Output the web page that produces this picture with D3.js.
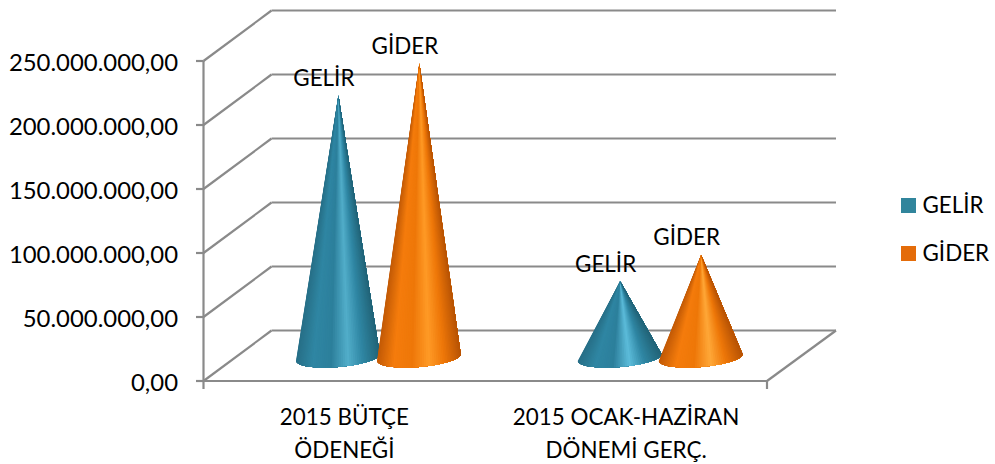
<!DOCTYPE html>
<html><head><meta charset="utf-8">
<script src="https://cdn.jsdelivr.net/npm/d3@7"></script>
<style>html,body{margin:0;padding:0;background:#fff}svg{display:block}text{font-family:Lato,"Open Sans",sans-serif;fill:#000}</style>
</head><body><svg id="c" width="995" height="464"></svg>
<script>
const categories=[["2015 BÜTÇE","ÖDENEĞİ"],["2015 OCAK-HAZİRAN","DÖNEMİ GERÇ."]];
const seriesNames=["GELİR","GİDER"];
const gelirValues=[205000000,60000000];
const giderValues=[230000000,80500000];
const tickValues=[0,50000000,100000000,150000000,200000000,250000000];
const tickLabels=["0,00","50.000.000,00","100.000.000,00","150.000.000,00","200.000.000,00","250.000.000,00"];
const swatchColors=["#31859c","#e46c0a"];
const ramps=[["#276f87","#2f86a3","#2c7f9b","#52aeca","#2f86a3","#226478"],
             ["#c25a06","#f57c0c","#ee7708","#ff9a26","#ee7708","#b85405"]];
const glow=["#5cbcda","#ffa838"];

const svg=d3.select("#c");
const x=d3.scaleBand().domain([0,1]).range([203.5,767]);
const y=d3.scaleLinear().domain([0,250000000]).range([381,61]);
const inner=d3.scaleBand().domain([0,1]).range([-81,81]);
const depthX=68,depthY=50.5,gridRight=836;
const grey="#8a8a8a";
const line=(a,b,c,d)=>svg.append("line").attr("x1",a).attr("y1",b).attr("x2",c).attr("y2",d)
  .attr("stroke",grey).attr("stroke-width",2.2);

tickValues.forEach(v=>{
  line(203.5,y(v),203.5+depthX,y(v)-depthY);
  line(203.5+depthX,y(v)-depthY,gridRight,y(v)-depthY);
  line(196,y(v),203.5,y(v));
});
line(203.5,y(0),203.5,y(250000000));
line(203.5,y(0),767,y(0));
line(767,y(0),gridRight,y(0)-depthY);
[203.5,767].forEach(p=>line(p,y(0),p,389));

svg.append("g").selectAll("text").data(tickValues).join("text")
  .attr("x",178).attr("y",(d,i)=>y(d)+10).attr("text-anchor","end")
  .attr("font-size",23.9).text((d,i)=>tickLabels[i]);

categories.forEach((lines,i)=>{
  const cx=x(i)+x.bandwidth()/2;
  lines.forEach((t,j)=>svg.append("text").attr("x",cx).attr("y",425+j*33)
    .attr("text-anchor","middle").attr("font-size",22.4).text(t));
});

const rx=42,ry=9.5,tilt=-4.8*Math.PI/180;
function cone(cx,cy,topY,ramp){
  const g=svg.append("g");
  const col=d3.scaleLinear().domain([0,.2,.42,.62,.8,1]).range(ramp).interpolate(d3.interpolateRgb);
  const n=60;
  const pt=a=>{const ex=-rx*Math.cos(a),ey=ry*Math.sin(a);
    return [cx+ex*Math.cos(tilt)-ey*Math.sin(tilt),cy+ex*Math.sin(tilt)+ey*Math.cos(tilt)];};
  const apex=[cx+0.5,topY];
  for(let k=0;k<n;k++){
    const pts=[apex];
    for(let m=k;m<=n;m++)pts.push(pt(Math.PI*m/n));
    const mid=pt(Math.PI*(k+.5)/n);
    const u=(mid[0]-(cx-rx))/(2*rx);
    g.append("path").attr("d",d3.line()(pts)+"Z").attr("fill",col(u));
  }
}
[gelirValues,giderValues].forEach((vals,s)=>{
  vals.forEach((v,i)=>{
    const cx=x(i)+x.bandwidth()/2+depthX/2+inner(s)+inner.bandwidth()/2;
    const cy=y(0)-23.5;
    const top=y(v)-23;
    const r=ramps[s].slice();
    if(i===1)r[3]=glow[s];
    cone(cx,cy,top,r);
    svg.append("text").attr("x",cx-14).attr("y",top-9.5).attr("text-anchor","middle")
      .attr("font-size",22.4).text(seriesNames[s]);
  });
});

seriesNames.forEach((n,i)=>{
  const ly=198+i*48;
  svg.append("rect").attr("x",901).attr("y",ly).attr("width",15).attr("height",15).attr("fill",swatchColors[i]);
  svg.append("text").attr("x",922.5).attr("y",ly+15).attr("font-size",22.4).text(n);
});
</script></body></html>
